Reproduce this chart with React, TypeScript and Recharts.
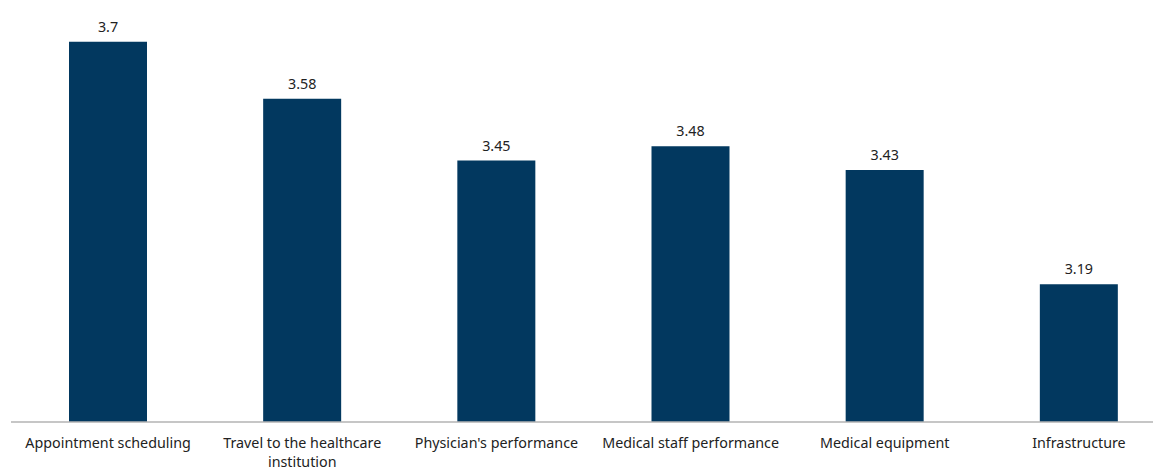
import { BarChart, Bar, XAxis, YAxis, LabelList, Text } from "recharts";

const CATEGORIES = [
  "Appointment scheduling",
  "Travel to the healthcare institution",
  "Physician's performance",
  "Medical staff performance",
  "Medical equipment",
  "Infrastructure",
];

const SCORES = [3.7, 3.58, 3.45, 3.48, 3.43, 3.19];

const data = CATEGORIES.map((name, i) => ({ name, score: SCORES[i] }));

const FONT = "'Noto Sans', 'Open Sans', sans-serif";

function CategoryTick({ x, y, payload }: any) {
  return (
    <Text
      x={x}
      y={y + 8}
      width={190}
      textAnchor="middle"
      verticalAnchor="start"
      lineHeight={19}
      fontSize={14.3}
      fontFamily={FONT}
      fill="#222"
    >
      {payload.value}
    </Text>
  );
}

export default function App() {
  return (
    <div style={{ width: 1145, height: 462 }}>
      <BarChart
        width={1145}
        height={462}
        data={data}
        margin={{ top: 10, right: 0, left: 3, bottom: 0 }}
        barSize={78}
        style={{ overflow: "visible" }}
      >
        <XAxis
          dataKey="name"
          interval={0}
          tickLine={false}
          axisLine={{ stroke: "#b3b3b3", strokeWidth: 1.5 }}
          tick={<CategoryTick />}
          padding={{ left: 0, right: -23 }}
          height={48}
        />
        <YAxis hide domain={[2.9, 3.75]} allowDataOverflow />
        <Bar dataKey="score" fill="#02385f" isAnimationActive={false}>
          <LabelList
            dataKey="score"
            position="top"
            offset={10}
            fontSize={14.3}
            fontFamily={FONT}
            fill="#222"
          />
        </Bar>
      </BarChart>
    </div>
  );
}
